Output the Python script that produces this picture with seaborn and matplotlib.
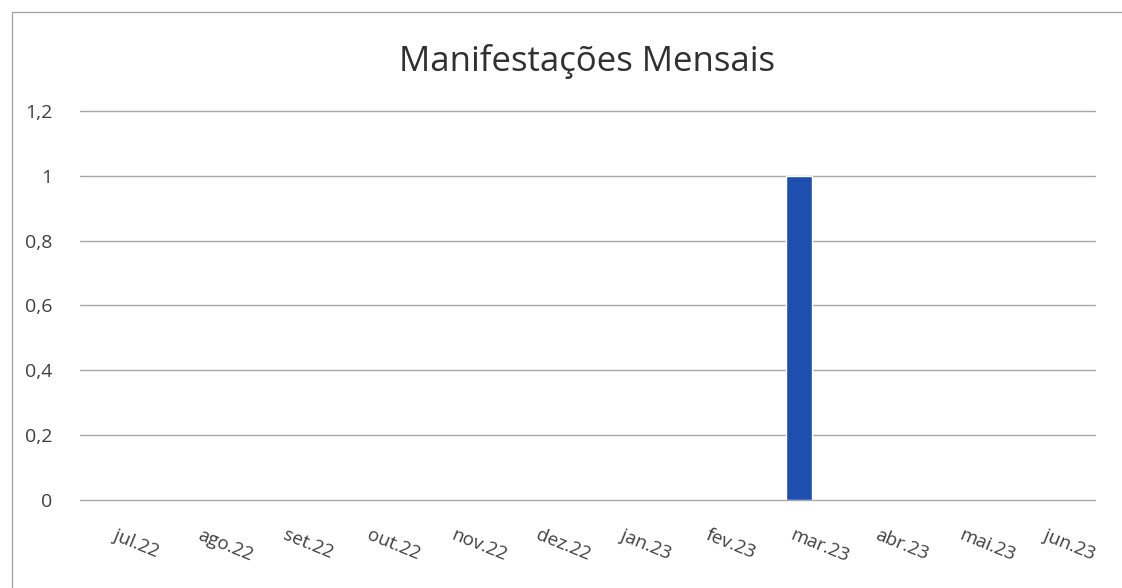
import matplotlib
matplotlib.use("Agg")
import matplotlib.pyplot as plt
import matplotlib.transforms as mtransforms
import pandas as pd
import seaborn as sns

# Data
months = ["jul.22", "ago.22", "set.22", "out.22", "nov.22", "dez.22",
          "jan.23", "fev.23", "mar.23", "abr.23", "mai.23", "jun.23"]
counts = [0, 0, 0, 0, 0, 0, 0, 0, 1, 0, 0, 0]
yticks = [0, 0.2, 0.4, 0.6, 0.8, 1.0, 1.2]

df = pd.DataFrame({"mes": months, "qtd": counts})

sns.set_style("white")
plt.rcParams["font.family"] = ["Open Sans", "DejaVu Sans"]

fig = plt.figure(figsize=(11.22, 5.88), dpi=100)
ax = fig.add_axes([0.0713, 0.1497, 0.9047, 0.6616])

sns.barplot(data=df, x="mes", y="qtd", order=months, color="#1f4fae",
            width=0.31, saturation=1, ax=ax, zorder=3)

ax.set_ylim(0, 1.2)
ax.set_yticks(yticks)
ax.set_yticklabels([f"{v:g}".replace(".", ",") for v in yticks],
                   fontsize=14, color="#404040")
ax.yaxis.grid(True, color="#a8a8a8", linewidth=1.0)
for gl in ax.yaxis.get_gridlines():
    gl.set_clip_on(False)
ax.set_axisbelow(True)
for s in ax.spines.values():
    s.set_visible(False)
ax.tick_params(axis="y", length=0, pad=20)
ax.tick_params(axis="x", length=0, pad=22)
ax.set_xlabel("")
ax.set_ylabel("")

ax.set_xticks(range(len(months)))
ax.set_xticklabels(months, rotation=-22, ha="left", va="center",
                   rotation_mode="anchor", fontsize=13.5, color="#404040")
offset = mtransforms.ScaledTranslation(-0.08, -0.04, fig.dpi_scale_trans)
for lbl in ax.get_xticklabels():
    lbl.set_transform(lbl.get_transform() + offset)

fig.text(0.523, 0.895, "Manifestações Mensais", ha="center", va="center",
         fontsize=25, color="#303030")

# light border around the chart area (right side runs off the image)
fig.patches.append(plt.Rectangle((0.011, -0.01), 1.0, 0.99, transform=fig.transFigure,
                                 fill=False, edgecolor="#a0a0a0", linewidth=0.9))

fig.savefig("out.png", dpi=100)
